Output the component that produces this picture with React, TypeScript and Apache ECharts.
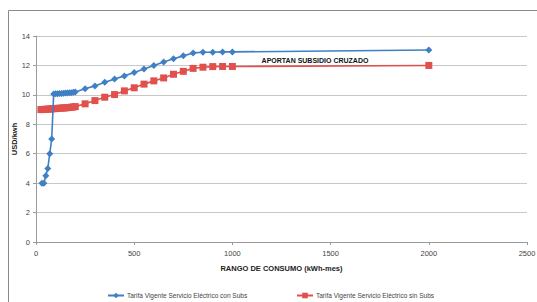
import React, { useEffect, useRef } from "react";
import * as echarts from "echarts";

const conSubsX = [30, 40, 50, 60, 70, 80, 90, 100, 110, 120, 130, 140, 150, 160, 170, 180, 190, 200, 250, 300, 350, 400, 450, 500, 550, 600, 650, 700, 750, 800, 850, 900, 950, 1000, 2000];
const conSubsY = [4.0, 4.0, 4.5, 5.0, 6.0, 7.0, 10.05, 10.07, 10.08, 10.09, 10.1, 10.11, 10.12, 10.13, 10.14, 10.15, 10.17, 10.2, 10.41, 10.61, 10.86, 11.07, 11.29, 11.52, 11.75, 12.0, 12.23, 12.45, 12.65, 12.85, 12.9, 12.9, 12.92, 12.92, 13.05];

const sinSubsX = [25, 30, 40, 50, 60, 70, 80, 90, 100, 110, 120, 130, 140, 150, 160, 170, 180, 190, 200, 250, 300, 350, 400, 450, 500, 550, 600, 650, 700, 750, 800, 850, 900, 950, 1000, 2000];
const sinSubsY = [9.0, 9.0, 9.01, 9.02, 9.03, 9.04, 9.05, 9.06, 9.07, 9.08, 9.09, 9.1, 9.11, 9.12, 9.13, 9.14, 9.16, 9.18, 9.2, 9.39, 9.61, 9.84, 10.02, 10.27, 10.48, 10.73, 10.95, 11.15, 11.4, 11.6, 11.8, 11.88, 11.92, 11.93, 11.93, 12.0];

const seriesNames = ["Tarifa Vigente Servicio Eléctrico con Subs", "Tarifa Vigente Servicio Eléctrico sin Subs"];
const xTitle = "RANGO DE CONSUMO (kWh-mes)";
const yTitle = "USD/kwh";
const annotation = "APORTAN SUBSIDIO CRUZADO";

const FONT = "'Liberation Sans', Arial, sans-serif";

export default function App() {
  const ref = useRef<HTMLDivElement>(null);
  useEffect(() => {
    if (!ref.current) return;
    const chart = echarts.init(ref.current, null, { renderer: "svg" });
    const pairs = (xs: number[], ys: number[]) => xs.map((x, i) => [x, ys[i]]);
    const legendBase = {
      top: 287,
      itemWidth: 16,
      itemHeight: 7,
      itemGap: 3,
      textStyle: { fontSize: 6.5, color: "#444", fontFamily: FONT, padding: [0, 0, 0, -2] },
    };
    chart.setOption({
      animation: false,
      backgroundColor: "#ffffff",
      textStyle: { fontFamily: FONT },
      grid: { left: 36, right: 10, top: 36, bottom: 60, containLabel: false, outerBoundsMode: "none" },
      xAxis: {
        type: "value",
        min: 0,
        max: 2500,
        interval: 500,
        name: xTitle,
        nameLocation: "middle",
        nameGap: 22,
        nameMoveOverlap: false,
        nameTextStyle: { fontSize: 7.5, fontWeight: "bold", color: "#222", fontFamily: FONT },
        axisLine: { show: true, lineStyle: { color: "#9a9a9a", width: 1 } },
        axisTick: { show: true, length: 3, lineStyle: { color: "#9a9a9a" } },
        axisLabel: { fontSize: 7.5, color: "#444", margin: 7, fontFamily: FONT, formatter: (v: number) => String(v) },
        splitLine: { show: false },
      },
      yAxis: {
        type: "value",
        min: 0,
        max: 14,
        interval: 2,
        name: yTitle,
        nameLocation: "middle",
        nameGap: 18,
        nameRotate: 90,
        nameMoveOverlap: false,
        nameTextStyle: { fontSize: 7.5, fontWeight: "bold", color: "#222", fontFamily: FONT },
        axisLine: { show: true, lineStyle: { color: "#9a9a9a", width: 1 } },
        axisTick: { show: true, length: 3, lineStyle: { color: "#9a9a9a" } },
        axisLabel: { fontSize: 7.5, color: "#444", margin: 6, fontFamily: FONT },
        splitLine: { show: true, lineStyle: { color: "#c8c8c8", width: 1 } },
      },
      legend: [
        { ...legendBase, left: 102, data: [seriesNames[0]] },
        { ...legendBase, left: 291, data: [seriesNames[1]] },
      ],
      series: [
        {
          name: seriesNames[0],
          type: "line",
          data: pairs(conSubsX, conSubsY),
          symbol: "diamond",
          symbolSize: 7,
          lineStyle: { color: "#3f7fc4", width: 1.6 },
          itemStyle: { color: "#3f7fc4" },
          z: 3,
        },
        {
          name: seriesNames[1],
          type: "line",
          data: pairs(sinSubsX, sinSubsY),
          symbol: "rect",
          symbolSize: 7,
          lineStyle: { color: "#e0504d", width: 1.6 },
          itemStyle: { color: "#e0504d" },
          z: 2,
        },
      ],
      graphic: [
        {
          type: "rect",
          shape: { x: 8.5, y: 10.5, width: 540, height: 300 },
          style: { fill: "none", stroke: "#8a8a8a", lineWidth: 1 },
          silent: true,
        },
        {
          type: "text",
          x: 315,
          y: 60,
          style: {
            text: annotation,
            fontSize: 7,
            fontWeight: "bold",
            fill: "#111",
            fontFamily: FONT,
            textAlign: "center",
            textVerticalAlign: "middle",
          },
        },
      ],
    });
    return () => chart.dispose();
  }, []);
  return <div ref={ref} style={{ width: 537, height: 302, position: "absolute", left: 0, top: 0 }} />;
}
